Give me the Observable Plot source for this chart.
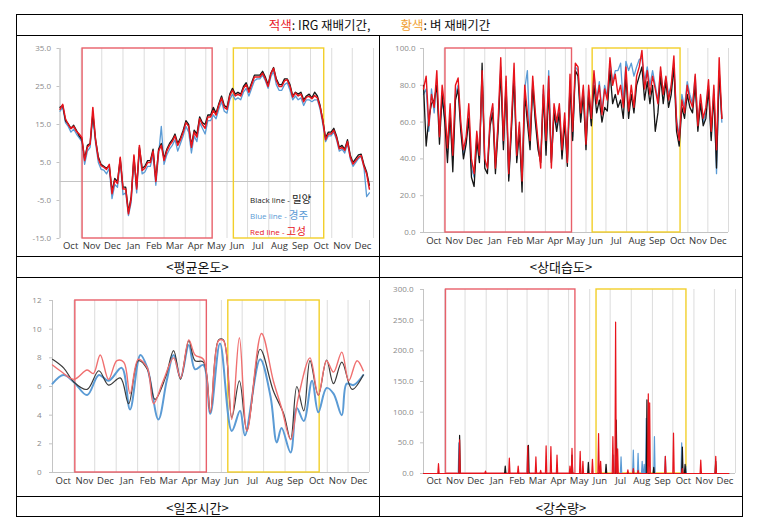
<!DOCTYPE html>
<html><head><meta charset="utf-8">
<script src="https://cdn.jsdelivr.net/npm/d3@7"></script>
<script src="https://cdn.jsdelivr.net/npm/@observablehq/plot@0.6"></script>
<style>
html,body{margin:0;padding:0;background:#fff;}
body{width:774px;height:527px;position:relative;overflow:hidden;font-family:"Noto Sans CJK KR","Noto Sans",sans-serif;}
.abs{position:absolute;}
.hl{position:absolute;height:0;border-top:1px solid #000;}
.vl{position:absolute;width:0;border-left:1px solid #000;}
.cap{position:absolute;text-align:center;font-size:13px;color:#111;}
.leg{position:absolute;white-space:nowrap;line-height:14px;}
.leg .en{font-family:"Open Sans",sans-serif;font-size:8px;}
.leg .ko{font-size:10.5px;}
</style>
</head><body>
<div id="p1" class="abs" style="left:16px;top:35px;"></div>
<div id="p2" class="abs" style="left:379px;top:35px;"></div>
<div id="p3" class="abs" style="left:16px;top:278px;"></div>
<div id="p4" class="abs" style="left:379px;top:278px;"></div>

<div class="abs" style="left:16px;top:14px;width:727px;height:21px;line-height:21px;text-align:center;font-size:12.5px;color:#111;white-space:nowrap;"><span style="color:#e8202a">적색</span>: IRG 재배기간,<span style="display:inline-block;width:30px"></span><span style="color:#f0a030">황색</span>: 벼 재배기간</div>

<div class="leg" style="left:250px;top:189px;color:#222"><span class="en">Black line - </span><span class="ko">밀양</span></div>
<div class="leg" style="left:250px;top:205px;color:#5b9bd5"><span class="en">Blue line - </span><span class="ko">경주</span></div>
<div class="leg" style="left:250px;top:221px;color:#e8141c"><span class="en">Red line - </span><span class="ko">고성</span></div>

<div class="cap" style="left:16px;top:256px;width:363px;height:22px;line-height:22px;">&lt;평균온도&gt;</div>
<div class="cap" style="left:379px;top:256px;width:364px;height:22px;line-height:22px;">&lt;상대습도&gt;</div>
<div class="cap" style="left:16px;top:497px;width:363px;height:21px;line-height:21px;">&lt;일조시간&gt;</div>
<div class="cap" style="left:379px;top:497px;width:364px;height:21px;line-height:21px;">&lt;강수량&gt;</div>

<div class="abs" style="left:16px;top:14px;width:727px;height:503px;border:1px solid #000;box-sizing:border-box;"></div>
<div class="hl" style="left:16px;top:35px;width:727px;"></div>
<div class="hl" style="left:16px;top:256px;width:727px;"></div>
<div class="hl" style="left:16px;top:277px;width:727px;"></div>
<div class="hl" style="left:16px;top:496px;width:727px;"></div>
<div class="vl" style="left:379px;top:35px;height:482px;"></div>

<script>
// ---------- axis / period data ----------
const monthLabels = ["Oct","Nov","Dec","Jan","Feb","Mar","Apr","May","Jun","Jul","Aug","Sep","Oct","Nov","Dec"];
const monthStartDays = [0,31,61,92,123,152,183,213,244,274,305,336,366,397,427,458]; // days from Oct 1
const irgPeriodDays = [33, 223];   // red box (IRG)
const ricePeriodDays = [254, 386]; // yellow box (rice)

// ---------- mean temperature (every 4 days) ----------
const tempStepDays = 4;
const tempGoseong = [19,20.3,16.5,15,13.9,14.5,13.2,12.5,11.5,5.5,
 9,9.8,19.5,10.8,6,4.2,3.8,3.2,4.5,-3.2,
 0.3,-0.5,6.4,-2,-2,-8.5,-4.5,7,-2,9.5,
 2.9,3.5,5,5,8,0,8,9.5,5.5,8,
 9.5,10.5,12,9.5,11,13,15.5,14.5,9,13,
 11.7,16.5,15,14,17,17,18.7,17.5,20,22,
 19.5,19,22.5,24,22.5,23,22.5,24.5,25.5,23.5,
 25.5,27.5,27.5,27.5,28.5,27,25,28.3,29.8,26.6,
 25,25,26.5,26.8,25,22.2,23.3,22.5,23,21,
 22.2,22.4,21.8,22.6,22,19.6,16,11,12.5,12.5,
 13.5,11.5,8.6,9,8.2,10.5,6.5,4.6,5.5,6.4,
 6.8,4,2,-2];
const tempMiryang = [19.5,20,16,15.2,14,14.8,13.5,12,11,6,
 9.5,10,18,11,6.5,4.5,4,3.5,4.2,-2.5,
 0.8,0,6,-1.5,-1.5,-8,-4,6.5,-1.5,9,
 3.5,4,5.5,5.5,8.5,0.5,8.5,10,6,8.5,
 10,11,12.5,10,11.5,13.5,16,15,9.5,13.5,
 12.5,17,15.5,15,17.5,17.5,19.5,18,20.5,22.5,
 20,19.5,23,24.5,23,23.5,23,25,26,24,
 26,28,28,28,29,27.5,25.5,28.5,30,27,
 25.5,25.5,27,27,25.5,22.5,23.5,23,23.5,21.5,
 22.5,23,22,23.5,22.5,20,16,11.5,13,13,
 14,12,9,9.5,8.5,11,7,5,6,7,
 7.2,4.5,2.5,-1];
const tempGyeongju = [18.5,19.5,15.5,14.5,13,13.8,12.5,11.5,10.5,4.5,
 8,9,17,10,5,3.2,3,2,3.5,-4.5,
 -0.8,-1.5,5.5,-3.5,-3,-9,-5.5,6,-3,8.5,
 2,2.5,4,4,7,-1,7,14.5,4.5,7,
 8.5,9.5,11,8,10,12,14.5,13,7.5,12,
 10.5,15.5,14,12.5,16,16,17.5,16.5,19,21,
 18.5,18,21.5,23,21.5,22,21.5,23.5,24.5,22.5,
 24.5,26.5,27,27,28,26.5,24.5,27.5,29,25.5,
 24,24,25.5,26,24,21.5,22.5,21.5,22,20,
 21.5,21.5,21,21.5,21.5,19,15,10.5,12,12,
 13,11,8,8.5,7.5,10,6,4,5,6,
 6.5,3.8,-4,-3];

// ---------- relative humidity (every 4 days) ----------
const humStepDays = 4;
const humGoseong = [78,85,58,75,68,88,52,80,68,46,
 70,42,80,84,60,45,52,70,40,32,
 55,42,88,40,35,62,70,35,60,95,
 50,85,32,60,92,42,60,28,80,65,
 50,85,65,50,35,80,50,85,35,70,
 60,70,45,65,38,86,55,92,90,65,
 80,48,80,62,88,70,80,64,78,72,
 95,80,86,75,80,68,90,66,80,68,
 85,90,99,78,88,75,85,78,70,90,
 75,85,72,80,96,60,50,72,65,80,
 72,68,86,58,75,62,68,83,55,80,
 45,95,62];
const humMiryang = [80,47,62,70,72,80,48,75,60,38,
 65,33,72,78,55,40,48,62,30,25,
 50,38,92,35,32,58,65,32,55,88,
 45,80,28,55,85,38,55,22,75,60,
 45,80,60,45,38,75,42,78,38,65,
 55,65,40,60,36,80,50,88,85,60,
 75,45,75,58,80,65,72,60,68,66,
 88,70,75,68,72,62,85,62,75,65,
 80,85,90,72,82,70,80,55,65,85,
 70,82,68,75,90,55,47,68,62,75,
 68,65,80,55,70,58,62,78,50,75,
 35,88,62];
const humGyeongju = [75,78,55,78,65,82,55,72,62,45,
 62,40,75,80,58,42,50,65,35,30,
 52,40,85,38,36,60,68,38,58,90,
 48,82,30,58,88,40,58,28,78,88,
 48,82,62,48,40,78,45,88,40,68,
 58,68,42,62,40,82,52,90,88,62,
 78,50,78,60,86,72,82,66,80,74,
 92,82,88,88,92,70,93,88,92,85,
 90,94,95,82,90,80,88,80,72,88,
 76,84,75,80,92,62,52,75,68,82,
 75,70,85,60,72,60,65,80,52,78,
 32,85,60];

// ---------- sunshine hours (smoothed curve points) ----------
const sunGoseongDays = [0,11,31,50,59,69,81,93,103,112,124,137,146,160,175,185,197,206,218,228,240,247,259,270,281,302,319,331,344,355,372,384,396,406,418,428,440,449];
const sunGoseong =     [7.5,7.1,6.5,7.15,6.9,8.2,6.5,7.8,7.7,5.5,7.9,7.3,4.8,6.4,8.0,6.6,9.25,8.2,7.9,4.2,9.2,9.2,3.7,9.4,2.9,9.7,6.4,4.5,2.3,5.2,8.0,5.4,7.8,7.0,8.4,6.4,7.8,7.1];
const sunMiryangDays = [0,16,31,50,67,81,98,110,124,137,148,163,175,185,197,206,218,228,240,247,259,270,281,300,319,334,344,353,363,372,384,396,406,418,433,449];
const sunMiryang =     [7.9,7.3,6.3,5.8,7.1,6.1,6.6,4.8,7.8,7.2,5.1,6.6,8.5,6.5,9.2,7.8,7.7,4.2,9.25,9.25,3.85,6.4,2.9,8.6,5.7,4.1,2.3,6.0,4.3,7.8,5.4,7.85,6.2,7.7,5.8,6.8];
const sunGyeongjuDays = [0,16,31,50,67,81,100,112,127,137,153,165,175,185,197,206,218,228,242,259,271,278,300,315,324,331,344,353,363,375,384,396,406,418,425,435,449];
const sunGyeongju =     [6.2,6.8,6.3,5.4,6.8,6.4,7.3,4.4,8.2,7.3,3.7,6.4,8.2,6.6,8.9,7.2,7.5,4.1,9.0,2.9,4.3,2.6,7.9,5.3,2.1,3.1,1.4,4.5,3.6,6.4,4.2,5.9,5.5,4.0,6.2,6.1,6.8];

// ---------- precipitation (rain days; other days 0 mm) ----------
const rainLastDay = 448;
const rainGoseongDays = [22,53,91,126,139,153,165,172,180,187,196,215,218,230,234,248,257,260,278,282,285,300,308,315,330,332,355,367,380,407,429];
const rainGoseong =     [16,55,4,25,12,45,27,5,45,44,30,12,41,36,20,23,65,20,60,247,40,6,8,5,130,115,28,66,8,22,28];
const rainMiryangDays = [53,120,154,218,242,268,283,328,338,380,384,429];
const rainMiryang =     [62,12,46,30,18,15,87,120,10,43,15,20];
const rainGyeongjuDays = [52,153,279,290,308,315,321,324,327,339,355,379,385];
const rainGyeongju =     [50,40,30,27,38,33,20,15,90,60,28,50,12];

// ---------- helpers ----------
const stepRows = (vals, step) => vals.map((v, i) => ({day: i * step, v}));
const pairRows = (days, vals) => days.map((d, i) => ({day: d, v: vals[i]}));
function dailyRows(days, vals, last) {
  const m = new Map(days.map((d, i) => [d, vals[i]]));
  const rows = [];
  for (let d = 0; d <= last; d++) rows.push({day: d, v: m.has(d) ? m.get(d) : 0});
  return rows;
}

const C_BLACK = "#161616", C_BLUE = "#5b9bd5", C_RED = "#e8141c";
const mids = monthStartDays.slice(0, -1).map((d, i) => (d + monthStartDays[i + 1]) / 2);
const labelOf = new Map(mids.map((m, i) => [m, monthLabels[i]]));

function panel(id, cfg) {
  const [y0, y1] = cfg.yDomain;
  const marks = [
    Plot.ruleX(monthStartDays, {stroke: "#dcdcdc", strokeWidth: 1}),
    Plot.ruleY([cfg.baseline], {stroke: "#c4c4c4", strokeWidth: 1}),
    Plot.ruleX([0], {stroke: "#c4c4c4", strokeWidth: 1}),
    Plot.rect([irgPeriodDays], {x1: d => d[0], x2: d => d[1], y1: () => y0, y2: () => y1,
      fill: "none", stroke: "#e8606a", strokeWidth: 1.4}),
    Plot.rect([ricePeriodDays], {x1: d => d[0], x2: d => d[1], y1: () => y0, y2: () => y1,
      fill: "none", stroke: "#f2cf2a", strokeWidth: 1.4}),
    ...cfg.lines.map(l => Plot.line(l.data, {x: "day", y: "v", stroke: l.color,
      strokeWidth: l.width, curve: cfg.curve || "linear", strokeLinejoin: "round"})),
    Plot.axisY({ticks: cfg.yTicks, tickFormat: cfg.yFormat, tickSize: 3, tickPadding: cfg.yPad,
      stroke: "#c4c4c4", fill: "#8a8a8a", fontSize: 8, label: null}),
    Plot.axisX({ticks: mids, tickFormat: d => labelOf.get(d), tickSize: 0, tickPadding: cfg.xPad,
      fill: "#333", fontSize: 9.5, label: null})
  ];
  const svg = Plot.plot({
    width: cfg.width, height: cfg.height,
    marginLeft: cfg.m[0], marginRight: cfg.m[1], marginTop: cfg.m[2], marginBottom: cfg.m[3],
    x: {domain: [0, 458]},
    y: {domain: cfg.yDomain},
    style: {fontFamily: "'Open Sans', sans-serif", background: "transparent", overflow: "visible"},
    marks
  });
  document.getElementById(id).appendChild(svg);
}

const f1 = d => d.toFixed(1);

panel("p1", {
  width: 363, height: 221, m: [43.5, 6, 13, 18],
  yDomain: [-15, 35], yTicks: [-15, -5, 5, 15, 25, 35], yFormat: f1, baseline: 0, yPad: 6, xPad: 4,
  lines: [
    {data: stepRows(tempGyeongju, tempStepDays), color: C_BLUE, width: 1.3},
    {data: stepRows(tempMiryang, tempStepDays), color: C_BLACK, width: 1.3},
    {data: stepRows(tempGoseong, tempStepDays), color: C_RED, width: 1.5}
  ]
});

panel("p2", {
  width: 364, height: 221, m: [44, 15, 13, 24],
  yDomain: [0, 100], yTicks: [0, 20, 40, 60, 80, 100], yFormat: f1, baseline: 0, yPad: 5, xPad: 5,
  lines: [
    {data: stepRows(humGyeongju, humStepDays), color: C_BLUE, width: 1.3},
    {data: stepRows(humMiryang, humStepDays), color: C_BLACK, width: 1.3},
    {data: stepRows(humGoseong, humStepDays), color: C_RED, width: 1.4}
  ]
});

panel("p3", {
  width: 363, height: 219, m: [36, 10, 22, 25],
  yDomain: [0, 12], yTicks: [0, 2, 4, 6, 8, 10, 12], yFormat: d => String(d), baseline: 0, yPad: 8, xPad: 5,
  curve: "catmull-rom",
  lines: [
    {data: pairRows(sunGyeongjuDays, sunGyeongju), color: "#5b9bd5", width: 2},
    {data: pairRows(sunMiryangDays, sunMiryang), color: "#3a3a3a", width: 1.2},
    {data: pairRows(sunGoseongDays, sunGoseong), color: "#f07070", width: 1.4}
  ]
});

panel("p4", {
  width: 364, height: 219, m: [44, 8, 11, 24],
  yDomain: [0, 300], yTicks: [0, 50, 100, 150, 200, 250, 300], yFormat: f1, baseline: 0, yPad: 7, xPad: 4,
  lines: [
    {data: dailyRows(rainGyeongjuDays, rainGyeongju, rainLastDay), color: C_BLUE, width: 1.2},
    {data: dailyRows(rainMiryangDays, rainMiryang, rainLastDay), color: C_BLACK, width: 1.2},
    {data: dailyRows(rainGoseongDays, rainGoseong, rainLastDay), color: C_RED, width: 1.2}
  ]
});
</script>
</body></html>
